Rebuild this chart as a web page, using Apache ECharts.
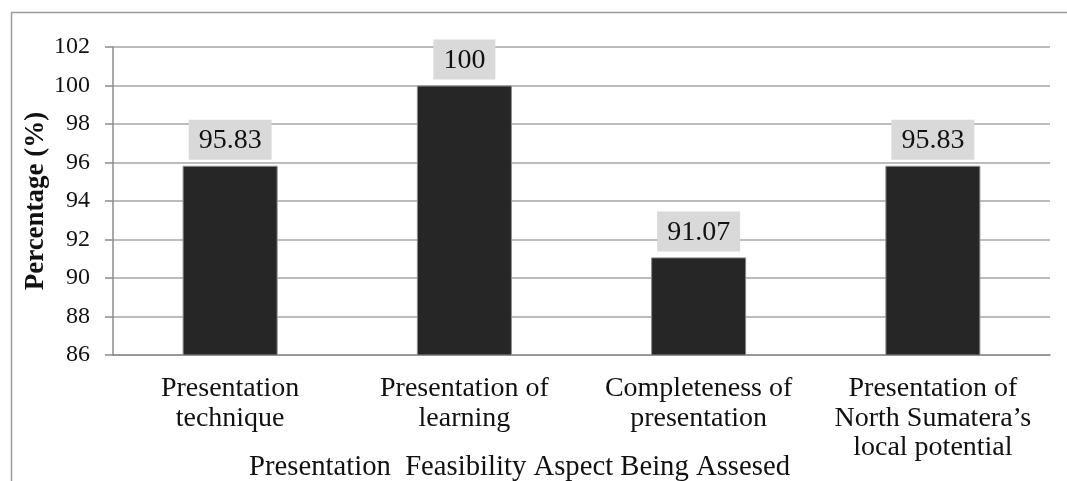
<!DOCTYPE html>
<html>
<head>
<meta charset="utf-8">
<script src="https://cdn.jsdelivr.net/npm/echarts@6/dist/echarts.min.js"></script>
<style>
    html, body {margin: 0; padding: 0; background: #fff;}
    #chart {width: 1067px; height: 481px;}
</style>
</head>
<body>
<div id="chart"></div>
<script>
var categories = [
    'Presentation\ntechnique',
    'Presentation of\nlearning',
    'Completeness of\npresentation',
    'Presentation of\nNorth Sumatera\u2019s\nlocal potential'
];
var percentages = [95.83, 100, 91.07, 95.83];
var valueLabels = ['95.83', '100', '91.07', '95.83'];
var yMin = 86, yMax = 102, yStep = 2;

var serif = '"Liberation Serif", "Times New Roman", serif';

// 图表初始化
var chart = echarts.init(document.getElementById('chart'));
chart.setOption({
    animation: false,
    grid: {left: 113, right: 17, top: 47, bottom: 126},
    graphic: [
        // 外边框
        {
            type: 'rect',
            shape: {x: 11.5, y: 12.5, width: 1100, height: 520},
            style: {fill: 'none', stroke: '#9a9a9a', lineWidth: 1.5}
        },
        {
            type: 'text',
            left: 249,
            top: 453,
            style: {
                text: 'Presentation  Feasibility Aspect Being Assesed',
                font: '28.7px ' + serif,
                fill: '#111'
            }
        }
    ],
    xAxis: {
        type: 'category',
        data: categories,
        axisLine: {lineStyle: {color: '#8c8c8c', width: 1.5}},
        axisTick: {length: 8, lineStyle: {color: '#8c8c8c', width: 1.5}},
        axisLabel: {
            interval: 0,
            margin: 19,
            color: '#111',
            fontFamily: serif,
            fontSize: 28,
            lineHeight: 29.5
        }
    },
    yAxis: {
        type: 'value',
        min: yMin,
        max: yMax,
        interval: yStep,
        name: 'Percentage (%)',
        nameLocation: 'middle',
        nameGap: 63,
        nameMoveOverlap: false,
        nameTextStyle: {color: '#111', fontFamily: serif, fontSize: 27, fontWeight: 'bold'},
        axisLine: {show: true, lineStyle: {color: '#8c8c8c', width: 1.5}},
        axisTick: {show: true, length: 8, lineStyle: {color: '#8c8c8c', width: 1.5}},
        axisLabel: {margin: 23, color: '#111', fontFamily: serif, fontSize: 24},
        splitLine: {lineStyle: {color: '#a6a6a6', width: 1.5}}
    },
    series: [{
        type: 'bar',
        data: percentages,
        barWidth: 95,
        itemStyle: {color: '#262626', borderColor: '#8a8a8a', borderWidth: 1},
        label: {
            show: true,
            position: 'top',
            distance: 6,
            formatter: function (p) {
                return valueLabels[p.dataIndex];
            },
            color: '#111',
            fontFamily: serif,
            fontSize: 28,
            backgroundColor: '#d9d9d9',
            padding: [7, 10, 5, 10]
        }
    }]
});
</script>
</body>
</html>
